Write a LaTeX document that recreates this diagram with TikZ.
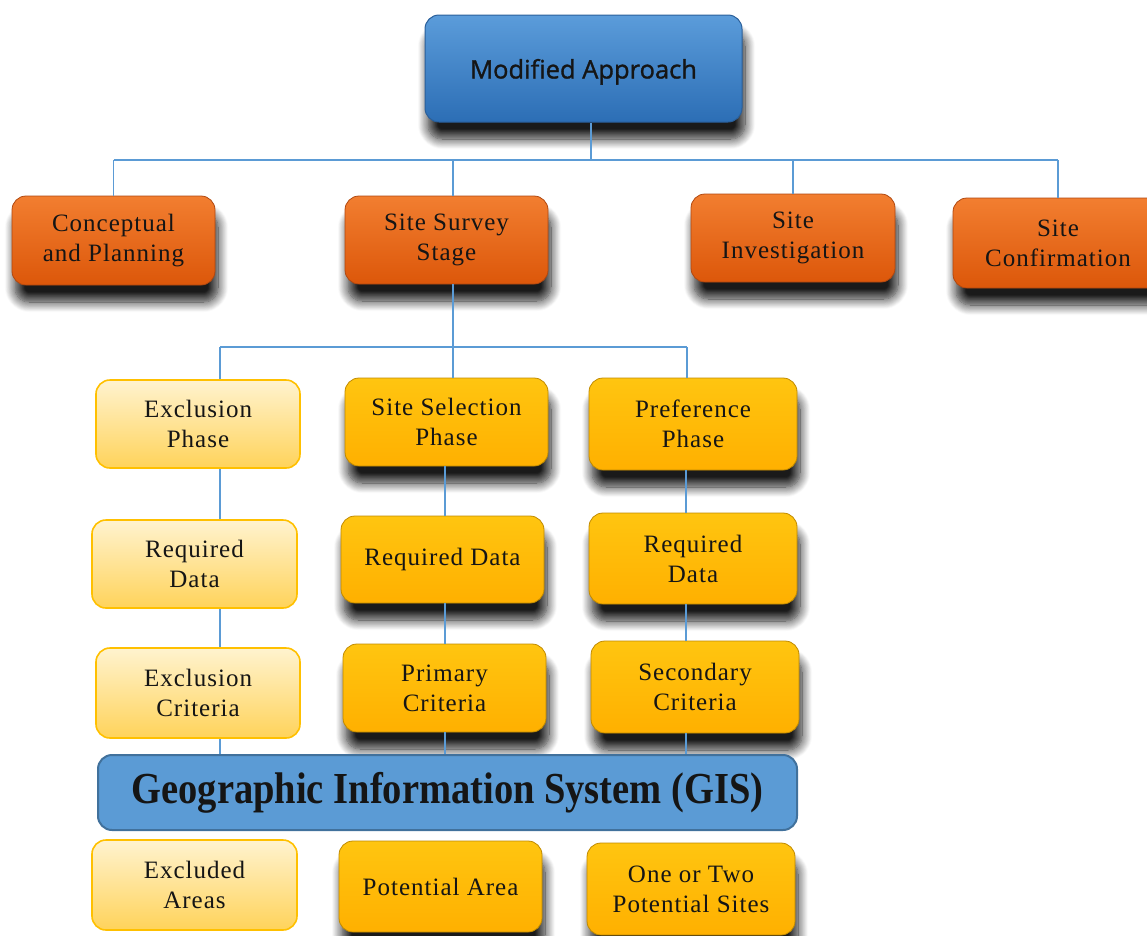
\documentclass[tikz,border=0pt]{standalone}
\usepackage{graphicx}
\usepackage{fontspec}
\setmainfont{Liberation Serif}[LetterSpace=4]
\newfontfamily\headfont{Open Sans}[FakeBold=1.2]
\newfontfamily\gisfont{Liberation Serif}
\usetikzlibrary{shadows.blur}
\definecolor{connblue}{HTML}{5B9BD5}
\definecolor{blueTop}{HTML}{5B9CDA}
\definecolor{blueBot}{HTML}{2C6EB5}
\definecolor{blueBorder}{HTML}{2A5F9A}
\definecolor{orTop}{HTML}{F27E30}
\definecolor{orBot}{HTML}{DC570A}
\definecolor{orBorder}{HTML}{B04810}
\definecolor{ltTop}{HTML}{FFF3CF}
\definecolor{ltBot}{HTML}{FFD35A}
\definecolor{ltBorder}{HTML}{FFC000}
\definecolor{amTop}{HTML}{FFC510}
\definecolor{amBot}{HTML}{FFB000}
\definecolor{amBorder}{HTML}{C08A00}
\definecolor{gisFill}{HTML}{5B9BD5}
\definecolor{gisBorder}{HTML}{41719C}
\definecolor{txt}{HTML}{151515}
\tikzset{
  conn/.style={draw=connblue, line width=1.6pt},
  basebox/.style={rounded corners=14pt, align=center, text=txt, inner sep=0pt,
    font=\fontsize{25}{30}\selectfont},
  shad/.style={blur shadow={shadow xshift=3pt, shadow yshift=-17pt, shadow opacity=90, shadow blur steps=12, shadow blur radius=10pt}},
  topbox/.style={basebox, top color=blueTop, bottom color=blueBot, draw=blueBorder, line width=1pt, shad,
    font=\headfont\fontsize{25.5}{30}\selectfont},
  obox/.style={basebox, top color=orTop, bottom color=orBot, draw=orBorder, line width=0.8pt, shad},
  lbox/.style={basebox, top color=ltTop, bottom color=ltBot, draw=ltBorder, line width=1.6pt},
  abox/.style={basebox, top color=amTop, bottom color=amBot, draw=amBorder, line width=0.8pt, shad},
  gisbox/.style={rounded corners=14pt, fill=gisFill, draw=gisBorder, line width=2pt, text=txt,
    font=\gisfont\bfseries\fontsize{38.5}{44}\selectfont},
}
\begin{document}
\begin{tikzpicture}[x=1pt, y=-1pt]
\useasboundingbox (0,0) rectangle (1147,935);
% column coordinates
\coordinate (bus) at (591,160);
\coordinate (split) at (453,347);
\coordinate (colL) at (220,0);
\coordinate (colM) at (445,0);
\coordinate (colR) at (686,0);
\coordinate (colS) at (453,0);
\coordinate (colP) at (687,0);

\node[topbox, minimum width=317pt, minimum height=107pt] (top) at (583.5,68.5) {\raisebox{-10pt}[0pt][0pt]{Modified Approach}};
\node[obox, minimum width=203pt, minimum height=89pt] (c1) at (113.5,240.5) {Conceptual\\and Planning};
\node[obox, minimum width=203pt, minimum height=88pt] (c2) at (446.5,240) {Site Survey\\Stage};
\node[obox, minimum width=204pt, minimum height=88pt] (c3) at (793,238) {Site\\Investigation};
\node[obox, minimum width=210pt, minimum height=90pt] (c4) at (1058,243) {Site\\Confirmation};

\node[lbox, minimum width=204pt, minimum height=88pt] (e1) at (198,424) {Exclusion\\Phase};
\node[abox, minimum width=203pt, minimum height=88pt] (s1) at (446.5,422) {Site Selection\\Phase};
\node[abox, minimum width=208pt, minimum height=92pt] (p1) at (693,424) {Preference\\Phase};

\node[lbox, minimum width=205pt, minimum height=88pt] (e2) at (194.5,564) {Required\\Data};
\node[abox, minimum width=203pt, minimum height=87pt] (s2) at (442.5,559.5) {Required Data};
\node[abox, minimum width=208pt, minimum height=91pt] (p2) at (693,558.5) {Required\\Data};

\node[lbox, minimum width=204pt, minimum height=90pt] (e3) at (198,693) {Exclusion\\Criteria};
\node[abox, minimum width=203pt, minimum height=88pt] (s3) at (444.5,688) {Primary\\Criteria};
\node[abox, minimum width=208pt, minimum height=92pt] (p3) at (695,687) {Secondary\\Criteria};

\node[gisbox, minimum width=699pt, minimum height=75pt] (gis) at (447.5,792.5) {\scalebox{1}[1.15]{Geographic Information System (GIS)}};

\node[lbox, minimum width=205pt, minimum height=90pt] (e4) at (194.5,885) {Excluded\\Areas};
\node[abox, minimum width=203pt, minimum height=91pt] (s4) at (440.5,886.5) {Potential Area};
\node[abox, minimum width=208pt, minimum height=92pt] (p4) at (691,889) {One or Two\\Potential Sites};

% top level tree
\draw[conn] (top.south -| bus) -- (bus);
\draw[conn] (c1.north |- bus) -- (c4.north |- bus);
\draw[conn] (c1.north) -- (c1.north |- bus);
\draw[conn] (c2.north -| colS) -- (bus -| colS);
\draw[conn] (c3.north) -- (c3.north |- bus);
\draw[conn] (c4.north) -- (c4.north |- bus);
% site survey split
\draw[conn] (c2.south -| colS) -- (split);
\draw[conn] (split -| colL) -- (split -| colP);
\draw[conn] (split -| colL) -- (e1.north -| colL);
\draw[conn] (split) -- (s1.north -| colS);
\draw[conn] (split -| colP) -- (p1.north -| colP);
% columns
\draw[conn] (e1.south -| colL) -- (e2.north -| colL);
\draw[conn] (e2.south -| colL) -- (e3.north -| colL);
\draw[conn] (e3.south -| colL) -- (gis.north -| colL);
\draw[conn] (s1.south -| colM) -- (s2.north -| colM);
\draw[conn] (s2.south -| colM) -- (s3.north -| colM);
\draw[conn] (s3.south -| colM) -- (gis.north -| colM);
\draw[conn] (p1.south -| colR) -- (p2.north -| colR);
\draw[conn] (p2.south -| colR) -- (p3.north -| colR);
\draw[conn] (p3.south -| colR) -- (gis.north -| colR);
\end{tikzpicture}
\end{document}
